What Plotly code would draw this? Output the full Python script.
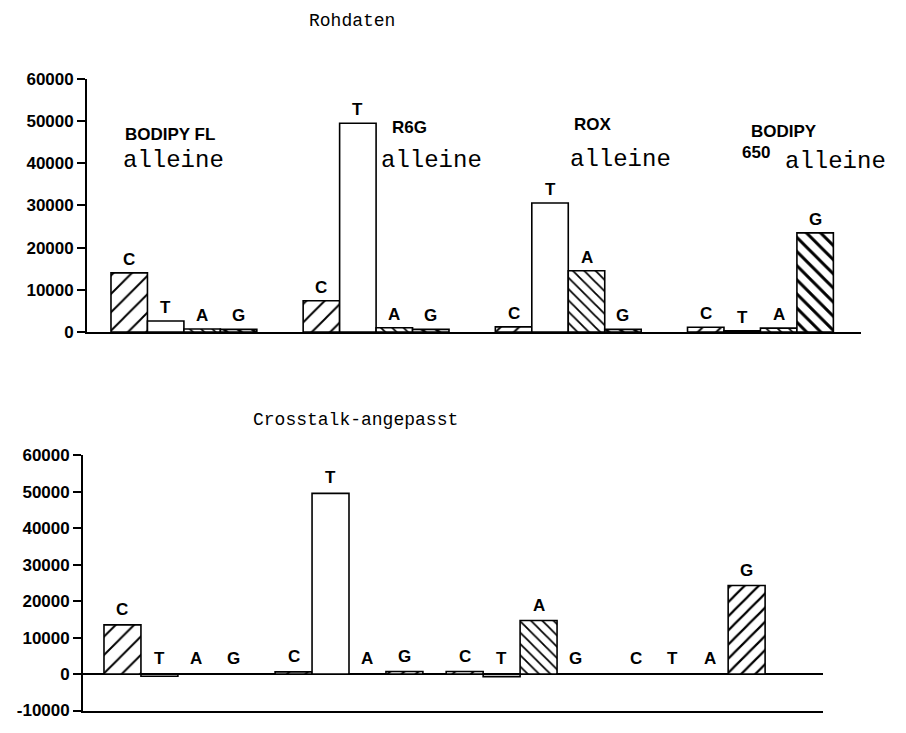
import plotly.graph_objects as go

# === Daten === #
bases = ["C", "T", "A", "G"]
farbstoffe = ["BODIPY FL", "R6G", "ROX", "BODIPY 650"]

# Rohdaten (jeder Farbstoff alleine)
roh_C = [14000, 7400, 1200, 1100]
roh_T = [2600, 49500, 30600, 300]
roh_A = [700, 1000, 14500, 900]
roh_G = [600, 600, 600, 23500]

# Crosstalk-angepasst
adj_C = [13500, 600, 700, 100]
adj_T = [-600, 49600, -700, 100]
adj_A = [100, 100, 14700, 100]
adj_G = [100, 700, 100, 24300]

y_ticks = [-10000, 0, 10000, 20000, 30000, 40000, 50000, 60000]

# === Stil === #
SANS = "Arial, Liberation Sans, sans-serif"
MONO = "Courier New, Liberation Mono, monospace"

# Muster je Base: (form, abstand, dichte)
muster_roh = {"C": ("/", 13, 0.15), "T": ("", 8, 0.2), "A": ("\\", 8, 0.22), "G": ("\\", 10, 0.3)}
muster_adj = {"C": ("/", 13, 0.15), "T": ("", 8, 0.2), "A": ("\\", 8, 0.22), "G": ("/", 10, 0.22)}

fig = go.Figure()


def panel(werte, muster, step, xa, ya, yshift):
    for j, b in enumerate(bases):
        xs = [g * step + j for g in range(len(farbstoffe))]
        shape, size, sol = muster[b]
        fig.add_trace(go.Bar(
            x=xs, y=werte[b], width=1,
            xaxis=xa, yaxis=ya,
            marker=dict(
                color="white",
                line=dict(color="black", width=1.6),
                pattern=dict(shape=shape, size=size, solidity=sol,
                             fgcolor="black", fgopacity=1, bgcolor="white",
                             fillmode="overlay"),
            ),
            showlegend=False, hoverinfo="skip",
        ))
        for x, v in zip(xs, werte[b]):
            fig.add_annotation(
                x=x, y=max(v, 0), xref=xa, yref=ya,
                text=b, showarrow=False, yanchor="bottom", yshift=yshift,
                font=dict(family=SANS, size=17, color="black", weight="bold"),
            )


panel({"C": roh_C, "T": roh_T, "A": roh_A, "G": roh_G}, muster_roh, 5.27, "x", "y", 2)
panel({"C": adj_C, "T": adj_T, "A": adj_A, "G": adj_G}, muster_adj, 4.63, "x2", "y2", 4)

# Farbstoff-Beschriftungen (oben)
label_font = dict(family=SANS, size=17, color="black", weight="bold")
mono_font = dict(family=MONO, size=24, color="black")
beschriftung = [
    (farbstoffe[0], -0.18, 46800, label_font),
    ("alleine", -0.22, 40660, mono_font),
    (farbstoffe[1], 7.15, 48460, label_font),
    ("alleine", 6.85, 40660, mono_font),
    (farbstoffe[2], 12.14, 49170, label_font),
    ("alleine", 12.03, 40900, mono_font),
    ("BODIPY", 16.99, 47520, label_font),
    ("650", 16.74, 42550, label_font),
    ("alleine", 17.92, 40430, mono_font),
]
for txt, x, y, f in beschriftung:
    fig.add_annotation(x=x, y=y, xref="x", yref="y", text=txt, showarrow=False,
                       xanchor="left", yanchor="middle", font=f)

# Titel
titel_font = dict(family=MONO, size=18, color="black")
fig.add_annotation(x=0.3793, y=0.9941, xref="paper", yref="paper", text="Rohdaten",
                   showarrow=False, yanchor="middle", font=titel_font)
fig.add_annotation(x=0.3837, y=0.4361, xref="paper", yref="paper", text="Crosstalk-angepasst",
                   showarrow=False, yanchor="middle", font=titel_font)

achse_x = dict(showgrid=False, zeroline=False, showticklabels=False, ticks="",
               showline=True, linecolor="black", linewidth=1.6)
achse_y = dict(showgrid=False, showline=True, linecolor="black", linewidth=1.6,
               ticks="outside", ticklen=8, tickwidth=1.6, tickcolor="black",
               tickvals=y_ticks, ticktext=[str(t) for t in y_ticks],
               tickfont=dict(family=SANS, size=17, color="black", weight="bold"))

fig.update_layout(
    barmode="overlay",
    xaxis=dict(achse_x, domain=[0.0871, 0.9416], range=[-1.16, 20.07]),
    yaxis=dict(achse_y, domain=[0.5589, 0.9132], range=[0, 60000], zeroline=False),
    xaxis2=dict(achse_x, domain=[0.0827, 0.8997], range=[-1.07, 18.96], anchor="y2"),
    yaxis2=dict(achse_y, domain=[0.0287, 0.3859], range=[-10000, 60000], anchor="x2",
                zeroline=True, zerolinecolor="black", zerolinewidth=1.6),
    plot_bgcolor="white",
    paper_bgcolor="white",
    margin=dict(l=0, r=0, t=0, b=0),
    width=906, height=733,
)

fig.write_html("out.html")
